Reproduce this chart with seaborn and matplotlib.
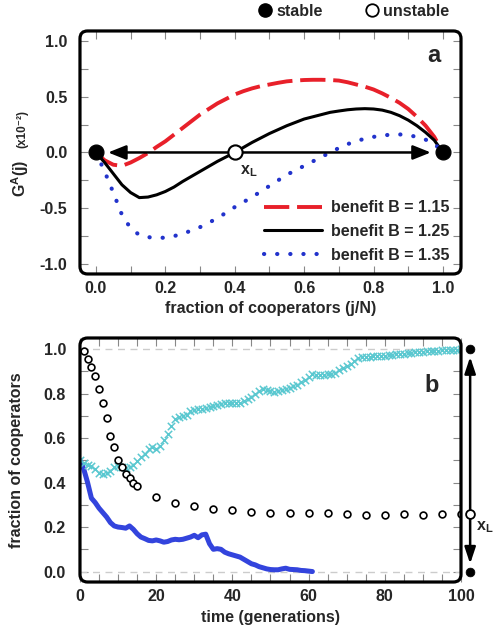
import matplotlib
matplotlib.use("Agg")
import matplotlib.pyplot as plt
from matplotlib.lines import Line2D
from matplotlib.patches import FancyBboxPatch
from matplotlib.ticker import MultipleLocator
import seaborn as sns


# panel a: gradient of selection G^A(j) (x10^-2)
frac = [0.000, 0.025, 0.050, 0.075, 0.100, 0.125, 0.150, 0.175, 0.200, 0.225,
        0.250, 0.275, 0.300, 0.325, 0.350, 0.375, 0.400, 0.425, 0.450, 0.475,
        0.500, 0.525, 0.550, 0.575, 0.600, 0.625, 0.650, 0.675, 0.700, 0.725,
        0.750, 0.775, 0.800, 0.825, 0.850, 0.875, 0.900, 0.925, 0.950, 0.975, 1.000]
g_115 = [0.00, -0.07, -0.11, -0.12, -0.09, -0.05, -0.005, 0.05, 0.10, 0.16,
         0.22, 0.28, 0.34, 0.39, 0.44, 0.48, 0.52, 0.55, 0.575, 0.595,
         0.61, 0.625, 0.638, 0.645, 0.65, 0.652, 0.652, 0.65, 0.645, 0.63,
         0.61, 0.59, 0.565, 0.53, 0.49, 0.445, 0.39, 0.32, 0.24, 0.14, 0.00]
g_125 = [0.00, -0.09, -0.19, -0.29, -0.36, -0.405, -0.40, -0.38, -0.35, -0.31,
         -0.26, -0.215, -0.17, -0.125, -0.08, -0.04, 0.00, 0.045, 0.09, 0.13,
         0.17, 0.205, 0.24, 0.27, 0.30, 0.32, 0.34, 0.36, 0.372, 0.383,
         0.39, 0.393, 0.39, 0.38, 0.36, 0.33, 0.29, 0.24, 0.18, 0.11, 0.00]
g_135 = [0.00, -0.17, -0.36, -0.56, -0.68, -0.74, -0.76, -0.765, -0.765, -0.75,
         -0.73, -0.70, -0.67, -0.63, -0.59, -0.54, -0.49, -0.445, -0.40, -0.35,
         -0.30, -0.25, -0.20, -0.16, -0.12, -0.08, -0.04, 0.00, 0.04, 0.075,
         0.10, 0.125, 0.14, 0.152, 0.16, 0.162, 0.155, 0.14, 0.115, 0.08, 0.00]
benefit_labels = ["benefit B = 1.15", "benefit B = 1.25", "benefit B = 1.35"]
stable_x = [0.0, 1.0]
unstable_x = [0.4]

# panel b: fraction of cooperators over time
circ_t = [1, 2, 3, 4, 5, 6, 7, 8, 9, 10, 11, 12, 13, 14, 15,
          20, 25, 30, 35, 40, 45, 50, 55, 60, 65, 70, 75, 80, 85, 90, 95, 100]
circ_y = [0.99, 0.955, 0.92, 0.88, 0.82, 0.76, 0.69, 0.61, 0.56, 0.50, 0.47, 0.44, 0.42, 0.40, 0.385,
          0.335, 0.31, 0.293, 0.283, 0.275, 0.268, 0.265, 0.262, 0.262, 0.262, 0.259, 0.255,
          0.255, 0.257, 0.256, 0.257, 0.26]

cyan_t = list(range(0, 101))
cyan_y = [0.50, 0.49, 0.48, 0.475, 0.46, 0.445, 0.44, 0.445, 0.45, 0.47,
          0.475, 0.47, 0.465, 0.47, 0.48, 0.495, 0.515, 0.53, 0.55, 0.56,
          0.55, 0.565, 0.59, 0.62, 0.655, 0.685, 0.695, 0.70, 0.705, 0.72,
          0.725, 0.73, 0.73, 0.735, 0.74, 0.745, 0.75, 0.755, 0.758, 0.758,
          0.757, 0.758, 0.76, 0.768, 0.775, 0.785, 0.797, 0.81, 0.822, 0.818,
          0.812, 0.808, 0.81, 0.815, 0.82, 0.825, 0.832, 0.84, 0.85, 0.862,
          0.875, 0.887, 0.885, 0.883, 0.885, 0.888, 0.89, 0.892, 0.905, 0.915,
          0.922, 0.935, 0.948, 0.962, 0.964, 0.965, 0.966, 0.967, 0.968, 0.969,
          0.971, 0.973, 0.975, 0.977, 0.979, 0.98, 0.981, 0.983, 0.985, 0.987,
          0.988, 0.99, 0.991, 0.992, 0.993, 0.994, 0.995, 0.996, 0.997, 0.998, 0.999]

blue_t = list(range(0, 62))
blue_y = [0.50, 0.46, 0.40, 0.33, 0.31, 0.285, 0.265, 0.245, 0.22, 0.205,
          0.20, 0.198, 0.195, 0.205, 0.19, 0.17, 0.155, 0.148, 0.14, 0.138,
          0.142, 0.138, 0.132, 0.135, 0.142, 0.145, 0.143, 0.145, 0.15, 0.155,
          0.163, 0.152, 0.165, 0.168, 0.125, 0.10, 0.103, 0.10, 0.087, 0.08,
          0.075, 0.07, 0.065, 0.055, 0.045, 0.035, 0.03, 0.022, 0.017, 0.012,
          0.009, 0.008, 0.008, 0.012, 0.015, 0.01, 0.009, 0.008, 0.005, 0.004,
          0.002, 0.0]
x_l = 0.26

sns.set_theme(style="ticks")
plt.rcParams["font.family"] = ["Liberation Sans", "DejaVu Sans"]
plt.rcParams["font.weight"] = "bold"
plt.rcParams["axes.unicode_minus"] = False
plt.rcParams["mathtext.default"] = "regular"

FS = 11.5
fig = plt.figure(figsize=(4.98, 6.32), dpi=100)
ax1 = fig.add_axes([0.1606, 0.5665, 0.7651, 0.3845])
ax2 = fig.add_axes([0.1606, 0.0791, 0.7651, 0.3861])


def style_axes(ax, ypad):
    for s in ax.spines.values():
        s.set_visible(False)
    ax.tick_params(which="both", direction="in", top=True, right=True,
                   color="#888888", labelsize=FS)
    ax.tick_params(axis="x", pad=5)
    ax.tick_params(axis="y", pad=ypad)
    ax.tick_params(which="both", length=6, width=0.8)
    for lab in ax.get_xticklabels() + ax.get_yticklabels():
        lab.set_fontweight("bold")
    ax.add_patch(FancyBboxPatch((0, 0), 1, 1, boxstyle="round,pad=0,rounding_size=0.02",
                                mutation_aspect=381 / 243, transform=ax.transAxes,
                                fill=False, lw=2.3, ec="black", clip_on=False, zorder=6))


arrow_a = dict(arrowstyle="-|>,head_length=0.9,head_width=0.36", mutation_scale=12,
               color="black", lw=1.8, shrinkA=0, shrinkB=0)
arrow_b = dict(arrowstyle="-|>,head_length=0.9,head_width=0.3", mutation_scale=11,
               color="black", lw=1.8, shrinkA=0, shrinkB=0)

# ---- panel a ----
sns.lineplot(x=frac, y=g_115, ax=ax1, color="#e8202a", lw=2.8, ls=(0, (6.5, 2.0)),
             label=benefit_labels[0], zorder=3)
sns.lineplot(x=frac, y=g_125, ax=ax1, color="black", lw=2.2,
             label=benefit_labels[1], zorder=3)
sns.lineplot(x=frac, y=g_135, ax=ax1, color="#2233cc", lw=3.0, ls=(0, (0.05, 3.1)),
             label=benefit_labels[2], zorder=3, dash_capstyle="round")

ax1.annotate("", xy=(0.035, 0), xytext=(0.4, 0), arrowprops=arrow_a, zorder=4)
ax1.annotate("", xy=(0.965, 0), xytext=(0.4, 0), arrowprops=arrow_a, zorder=4)
sns.scatterplot(x=stable_x, y=[0, 0], ax=ax1, s=115, color="black",
                edgecolor="black", zorder=7, clip_on=False)
sns.scatterplot(x=unstable_x, y=[0], ax=ax1, s=105, color="white",
                edgecolor="black", linewidth=1.5, zorder=7)
ax1.text(0.44, -0.17, "x$_L$", fontsize=FS, fontweight="bold", ha="center", va="center")

ax1.set_xlim(-0.046, 1.052)
ax1.set_ylim(-1.09, 1.09)
ax1.xaxis.set_minor_locator(MultipleLocator(0.1))
ax1.yaxis.set_minor_locator(MultipleLocator(0.25))
ax1.set_xticks([0, 0.2, 0.4, 0.6, 0.8, 1.0])
ax1.set_xticklabels(["0.0", "0.2", "0.4", "0.6", "0.8", "1.0"])
ax1.set_yticks([-1.0, -0.5, 0.0, 0.5, 1.0])
ax1.set_yticklabels(["-1.0", "-0.5", "0.0", "0.5", "1.0"])
ax1.set_xlabel("fraction of cooperators (j/N)", fontsize=FS, fontweight="bold", labelpad=4)
ax1.set_ylabel("")
style_axes(ax1, 9)
ax1.text(-0.142, 0.317, "G$^A$(j)", fontsize=FS, fontweight="bold", rotation=90,
         rotation_mode="anchor", ha="left", va="baseline", transform=ax1.transAxes)
ax1.text(-0.142, 0.52, "(x10\u207b\u00b2)", fontsize=8.5, fontweight="bold", rotation=90,
         rotation_mode="anchor", ha="left", va="baseline", transform=ax1.transAxes)
ax1.text(0.929, 0.90, "a", fontsize=17, fontweight="bold", ha="center", va="center",
         transform=ax1.transAxes)
leg = ax1.legend(loc="lower right", bbox_to_anchor=(1.0, 0.0), frameon=False,
                 fontsize=FS, handlelength=3.6, labelspacing=0.55, handletextpad=0.6,
                 borderaxespad=0.3)
for t in leg.get_texts():
    t.set_fontweight("bold")

# ---- panel b ----
ax2.axhline(0, color="#cccccc", lw=1, ls=(0, (5, 4)), zorder=1)
ax2.axhline(1, color="#cccccc", lw=1, ls=(0, (5, 4)), zorder=1)
sns.lineplot(x=blue_t, y=blue_y, ax=ax2, color="#3344dd", lw=3.6, zorder=3)
sns.scatterplot(x=cyan_t, y=cyan_y, ax=ax2, marker="x", s=28, color="#5bc8d0",
                linewidth=1.1, zorder=4)
sns.scatterplot(x=circ_t, y=circ_y, ax=ax2, s=24, color="white",
                edgecolor="black", linewidth=1.2, zorder=5)

rx = 102.4
ax2.annotate("", xy=(rx, 0.965), xytext=(rx, x_l), annotation_clip=False, arrowprops=arrow_b)
ax2.annotate("", xy=(rx, 0.035), xytext=(rx, x_l), annotation_clip=False, arrowprops=arrow_b)
sns.scatterplot(x=[rx, rx], y=[0, 1], ax=ax2, s=40, color="black",
                edgecolor="black", zorder=7, clip_on=False)
sns.scatterplot(x=[rx], y=[x_l], ax=ax2, s=40, color="white",
                edgecolor="black", linewidth=1.3, zorder=7, clip_on=False)
ax2.text(106.2, 0.2, "x$_L$", fontsize=FS, fontweight="bold", ha="center", va="center",
         clip_on=False)

ax2.set_xlim(0, 100)
ax2.set_ylim(-0.047, 1.05)
ax2.xaxis.set_major_locator(MultipleLocator(20))
ax2.xaxis.set_minor_locator(MultipleLocator(5))
ax2.yaxis.set_minor_locator(MultipleLocator(0.1))
ax2.set_yticks([0.0, 0.2, 0.4, 0.6, 0.8, 1.0])
ax2.set_yticklabels(["0.0", "0.2", "0.4", "0.6", "0.8", "1.0"])
ax2.set_xlabel("time (generations)", fontsize=FS, fontweight="bold", labelpad=4)
ax2.set_ylabel("fraction of cooperators", fontsize=FS, fontweight="bold")
ax2.yaxis.set_label_coords(-0.148, 0.5)
style_axes(ax2, 10)
ax2.text(0.924, 0.807, "b", fontsize=17, fontweight="bold", ha="center", va="center",
         transform=ax2.transAxes)

# stable / unstable key
key = [Line2D([], [], marker="o", ls="", mfc="black", mec="black", ms=9.5, label="stable"),
       Line2D([], [], marker="o", ls="", mfc="white", mec="black", mew=1.3, ms=9,
              label="unstable")]
kleg = fig.legend(handles=key, loc="center", bbox_to_anchor=(0.709, 0.982), ncol=2,
                  frameon=False, fontsize=FS, handletextpad=0.2, columnspacing=2.6,
                  handlelength=1.0)
for t in kleg.get_texts():
    t.set_fontweight("bold")

fig.savefig("out.png", dpi=100)
